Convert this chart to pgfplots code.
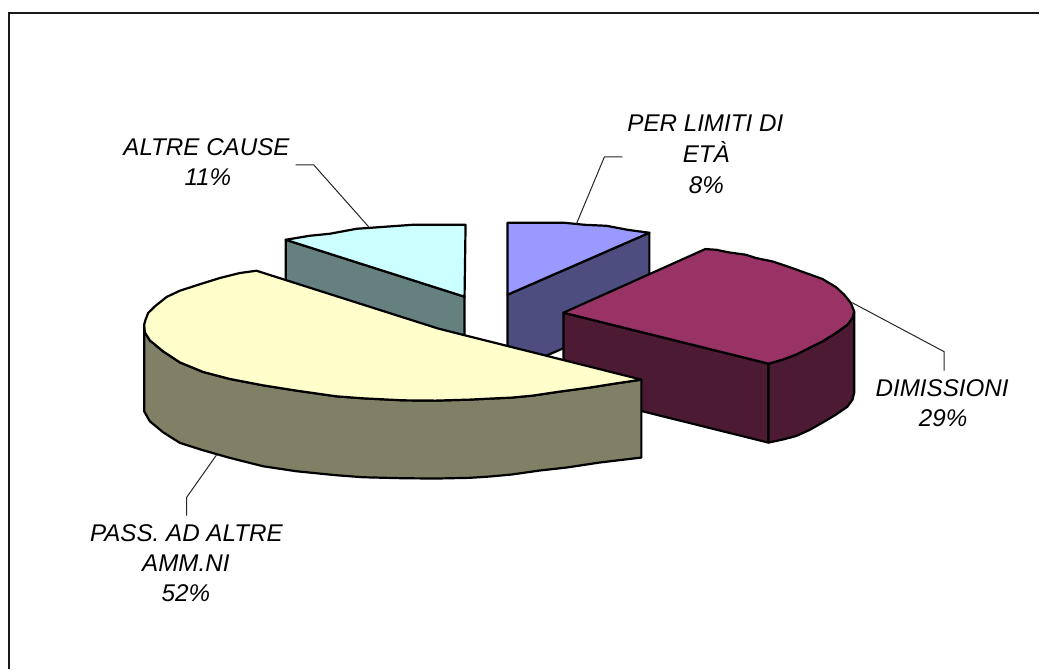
\documentclass[border=0pt]{standalone}
\usepackage{fontspec}
\setmainfont{Liberation Sans}
\usepackage{pgfplots}
\pgfplotsset{compat=1.18}
\definecolor{bluetop}{HTML}{9999FF}
\definecolor{blueside}{HTML}{4D4D80}
\definecolor{maroontop}{HTML}{993366}
\definecolor{maroonside}{HTML}{4D1A33}
\definecolor{yellowtop}{HTML}{FFFFCC}
\definecolor{yellowside}{HTML}{808066}
\definecolor{cyantop}{HTML}{CCFFFF}
\definecolor{cyanside}{HTML}{668080}
\tikzset{
  slice/.style={draw=black, line width=2.2pt, line join=round},
  leader/.style={draw=black!85, line width=1pt, line join=miter},
  lbl/.style={anchor=base, inner sep=0pt, font=\fontsize{24.2}{26}\selectfont\itshape, text=black}
}
\begin{document}
\begin{tikzpicture}
\begin{axis}[
  hide axis, scale only axis, width=1040pt, height=670pt,
  xmin=0, xmax=1040, ymin=0, ymax=670, y dir=reverse,
  clip=false, axis on top=false
]
% white page background
\addplot[draw=none, fill=white] coordinates {(0,0) (1040,0) (1040,670) (0,670)} -- cycle;
% frame, open towards the lower right
\addplot[draw=black!90, line width=2pt] coordinates {(9,670) (9,13) (1040,13)};

% PER LIMITI DI ETA: cut face and top
\addplot[slice, fill=blueside] coordinates {(508,295) (650,233) (650,311) (508,373)} -- cycle;
\addplot[slice, fill=bluetop] coordinates {(508,223) (565,223) (585,225) (607,226) (628,230) (650,233) (508,295)} -- cycle;

% ALTRE CAUSE: cut face and top
\addplot[slice, fill=cyanside] coordinates {(286,240) (465,297) (465,376) (286,319)} -- cycle;
\addplot[slice, fill=cyantop] coordinates {(466,225) (413,225) (385,227) (357,229) (330,234) (310,236) (286,240) (465,297)} -- cycle;

% DIMISSIONI: cut face, rim and top
\addplot[slice, fill=maroonside] coordinates {(564,313) (769,364) (769,443) (564,392)} -- cycle;
\addplot[slice, fill=maroonside] coordinates {(855,312) (853.3,318.3) (848.3,325) (836.7,333.3) (823.3,341.7) (810,348.3) (796.7,355) (783.3,360) (769.3,364)
  (769.3,443) (783.3,440) (796.7,436.5) (810,430.5) (823.3,423) (836.7,415) (848.3,407) (853.3,400) (855,393)} -- cycle;
\addplot[slice, fill=maroontop] coordinates {(564,313) (706,249.3) (716.7,250) (730,252.7) (746.7,255) (756.7,258.3) (773.3,261.7) (790,267.3) (806.7,273.3)
  (823.3,279.3) (836.7,287.3) (845,295) (851.7,303.3) (855,311.7) (853.3,318.3) (848.3,325) (836.7,333.3) (823.3,341.7) (810,348.3) (796.7,355) (783.3,360) (769.3,364)} -- cycle;

% PASS. AD ALTRE AMM.NI: rim and top
\addplot[slice, fill=yellowside] coordinates {(144.3,325) (145,332.7) (150,340.7) (163.3,351.7) (180,362.7) (203.3,372.3) (230,379.3) (263.3,385.7)
  (296.7,391) (336.7,396.7) (363.3,398.7) (403.3,400.7) (436,401) (470,400) (490,399) (512,398) (533,396) (560,392) (590,388) (615,384) (642,380)
  (642,458) (600,463) (567,468) (540,471) (512,475) (490,477) (470,478.3) (436,479) (403.3,478.7) (363.3,477.7) (336.7,475.7) (296.7,471.7) (263.3,466.7)
  (230,458.3) (203.3,450.7) (180,443.3) (163.3,432.7) (150,421.7) (144.3,411.7)} -- cycle;
\addplot[slice, fill=yellowtop] coordinates {(256.7,271) (240,273.3) (220,278.3) (201.7,284) (180,291) (166.7,297.3) (155,306.7) (148.3,313.3) (145.7,320)
  (144.3,325) (145,332.7) (150,340.7) (163.3,351.7) (180,362.7) (203.3,372.3) (230,379.3) (263.3,385.7) (296.7,391) (336.7,396.7) (363.3,398.7)
  (403.3,400.7) (436,401) (470,400) (490,399) (512,398) (533,396) (560,392) (590,388) (615,384) (642,380) (439,329)} -- cycle;

% leader lines
\addplot[leader] coordinates {(296,165) (314,165) (369,227)};
\addplot[leader] coordinates {(623,157) (605,157) (577,224)};
\addplot[leader] coordinates {(853,303) (945,352) (945,371)};
\addplot[leader] coordinates {(217,455) (186.7,498) (186.7,516)};

% slice labels, line by line
\node[lbl] at (axis cs:206.7,155.7) {ALTRE CAUSE};
\node[lbl] at (axis cs:208,186) {11\%};
\node[lbl] at (axis cs:706,132) {PER LIMITI DI};
\node[lbl] at (axis cs:707,163) {ETÀ};
\node[lbl] at (axis cs:707,194) {8\%};
\node[lbl] at (axis cs:943,396.7) {DIMISSIONI};
\node[lbl] at (axis cs:944,427) {29\%};
\node[lbl] at (axis cs:186.5,541.7) {PASS. AD ALTRE};
\node[lbl] at (axis cs:186,571.7) {AMM.NI};
\node[lbl] at (axis cs:186,602) {52\%};
\end{axis}
\end{tikzpicture}
\end{document}
